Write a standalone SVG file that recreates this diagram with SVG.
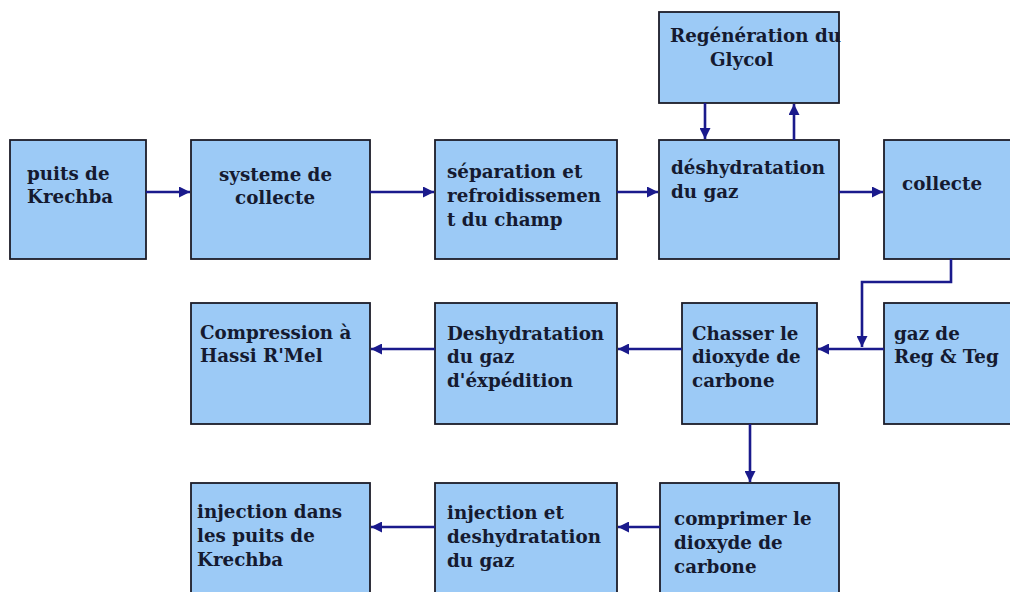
<svg xmlns="http://www.w3.org/2000/svg" width="1010" height="592" viewBox="0 0 1010 592">
<defs>
<style>
.box{fill:#9ccaf6;stroke:#1c1c28;stroke-width:1.8}
.t{font-family:"DejaVu Serif","Liberation Serif",serif;font-weight:bold;font-size:18.3px;fill:#151a30}
.c{fill:none;stroke:#1a1a8c;stroke-width:2.6}
</style>
<marker id="ah" viewBox="0 0 10 10" refX="10" refY="5" markerWidth="11" markerHeight="11" markerUnits="userSpaceOnUse" orient="auto">
<path d="M0,0 L10,5 L0,10 Z" fill="#1a1a8c"/>
</marker>
</defs>
<rect width="1010" height="592" fill="#ffffff"/>
<g id="n1"><rect class="box" x="10" y="140" width="136" height="119"/><text class="t" x="27" y="180">puits de</text><text class="t" x="27" y="203">Krechba</text></g>
<g id="n2"><rect class="box" x="191" y="140" width="179" height="119"/><text class="t" x="219" y="181">systeme de</text><text class="t" x="235" y="204">collecte</text></g>
<g id="n3"><rect class="box" x="435" y="140" width="182" height="119"/><text class="t" x="447" y="178">séparation et</text><text class="t" x="447" y="202">refroidissemen</text><text class="t" x="447" y="226">t du champ</text></g>
<g id="n4"><rect class="box" x="659" y="140" width="180" height="119"/><text class="t" x="671" y="174">déshydratation</text><text class="t" x="671" y="198">du gaz</text></g>
<g id="n5"><rect class="box" x="659" y="12" width="180" height="91"/><text class="t" x="670" y="42">Regénération du</text><text class="t" x="710" y="66">Glycol</text></g>
<g id="n6"><rect class="box" x="884" y="140" width="140" height="119"/><text class="t" x="902" y="190">collecte</text></g>
<g id="n7"><rect class="box" x="191" y="303" width="179" height="121"/><text class="t" x="200" y="339">Compression à</text><text class="t" x="200" y="362">Hassi R'Mel</text></g>
<g id="n8"><rect class="box" x="435" y="303" width="182" height="121"/><text class="t" x="447" y="340">Deshydratation</text><text class="t" x="447" y="363">du gaz</text><text class="t" x="447" y="387">d'éxpédition</text></g>
<g id="n9"><rect class="box" x="682" y="303" width="135" height="121"/><text class="t" x="692" y="340">Chasser le</text><text class="t" x="692" y="363">dioxyde de</text><text class="t" x="692" y="387">carbone</text></g>
<g id="n10"><rect class="box" x="884" y="303" width="140" height="121"/><text class="t" x="894" y="340">gaz de</text><text class="t" x="894" y="363">Reg &amp; Teg</text></g>
<g id="n11"><rect class="box" x="191" y="483" width="179" height="120"/><text class="t" x="197" y="518">injection dans</text><text class="t" x="197" y="542">les puits de</text><text class="t" x="197" y="566">Krechba</text></g>
<g id="n12"><rect class="box" x="435" y="483" width="182" height="120"/><text class="t" x="447" y="519">injection et</text><text class="t" x="447" y="543">deshydratation</text><text class="t" x="447" y="567">du gaz</text></g>
<g id="n13"><rect class="box" x="660" y="483" width="179" height="120"/><text class="t" x="674" y="525">comprimer le</text><text class="t" x="674" y="549">dioxyde de</text><text class="t" x="674" y="573">carbone</text></g>
<g id="connectors">
<path class="c" d="M146,192 H190" marker-end="url(#ah)"/>
<path class="c" d="M370,192 H434" marker-end="url(#ah)"/>
<path class="c" d="M617,192 H658" marker-end="url(#ah)"/>
<path class="c" d="M839,192 H883" marker-end="url(#ah)"/>
<path class="c" d="M705,103 V139" marker-end="url(#ah)"/>
<path class="c" d="M794,140 V104" marker-end="url(#ah)"/>
<path class="c" d="M951,259 V282 H862 V347" marker-end="url(#ah)"/>
<path class="c" d="M884,349 H818" marker-end="url(#ah)"/>
<path class="c" d="M682,349 H618" marker-end="url(#ah)"/>
<path class="c" d="M435,349 H371" marker-end="url(#ah)"/>
<path class="c" d="M750,424 V482" marker-end="url(#ah)"/>
<path class="c" d="M660,527 H618" marker-end="url(#ah)"/>
<path class="c" d="M435,527 H371" marker-end="url(#ah)"/>
</g>
</svg>
